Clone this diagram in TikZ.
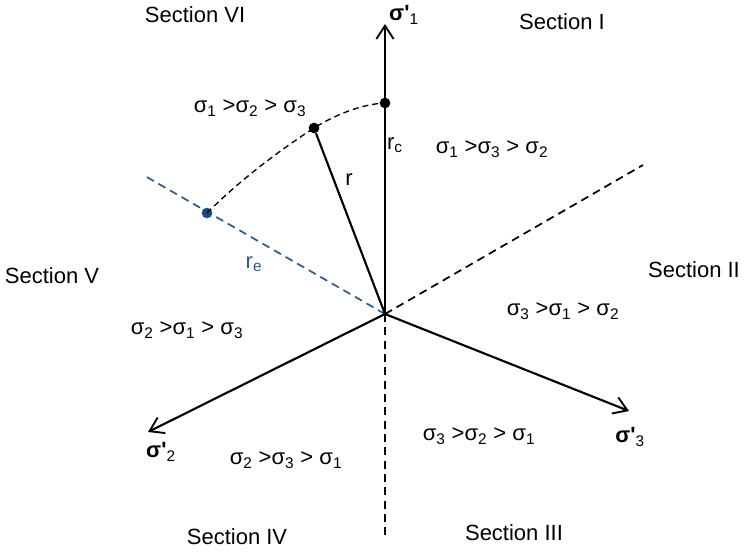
\documentclass[tikz,border=0pt]{standalone}
\usepackage{fontspec}
\setmainfont{Liberation Sans}
\usetikzlibrary{arrows.meta}
\definecolor{rblue}{RGB}{46,90,140}
\definecolor{dotblue}{RGB}{30,72,128}
\newcommand{\sg}[1]{σ\textsubscript{#1}}
\newcommand{\axl}[1]{\textbf{σ\textquotesingle}\textsubscript{#1}}
\begin{document}
\begin{tikzpicture}[x=0.75pt,y=-0.75pt,
  lbl/.style={font=\fontsize{16.5}{18}\selectfont, inner sep=0pt},
  axisline/.style={line width=1.6pt, -{Straight Barb[length=10pt,width=13pt,line width=1.4pt]}},
  solidline/.style={line width=1.6pt},
  dashline/.style={line width=1.3pt, dash pattern=on 6pt off 4pt},
  bluedash/.style={line width=1.3pt, dash pattern=on 6pt off 4pt, draw=rblue},
  curvedash/.style={line width=1pt, dash pattern=on 4.5pt off 3pt},
  bdot/.style={circle, fill=black, inner sep=0pt, minimum size=8pt},
  udot/.style={circle, fill=dotblue, inner sep=0pt, minimum size=8pt}]
\useasboundingbox (0,0) rectangle (746,554);

\coordinate (O) at (385,314);
\coordinate (a1) at (385,24);
\coordinate (a2) at (148,432);
\coordinate (a3) at (629,411);
\coordinate (d1) at (643,165);
\coordinate (d2) at (385,536);
\coordinate (d3) at (145,176);

% dashed section borders
\draw[dashline] (O) -- (d1);
\draw[dashline] (O) -- (d2);
\draw[bluedash] (O) -- (d3);

% axes
\draw[axisline] (O) -- (a1);
\draw[axisline] (O) -- (a2);
\draw[axisline] (O) -- (a3);

% points
\node[bdot] (pc) at (385,103) {};
\node[bdot] (pr) at (314,128) {};
\node[udot] (pe) at (207,213) {};

\draw[solidline] (O) -- (pr);
\draw[curvedash] (pe.center) .. controls (240,180) and (280,150) .. (pr.center)
  .. controls (340,112) and (365,104) .. (pc.center);

% axis labels
\node[lbl] (l1) at (404,15) {\axl{1}};
\node[lbl] (l2) at (161,452) {\axl{2}};
\node[lbl] (l3) at (630,437) {\axl{3}};

% radius labels
\node[lbl] (rc) at (395,145) {r\textsubscript{c}};
\node[lbl] (rr) at (349,180) {r};
\node[lbl, text=rblue] (re) at (254,264) {r\textsubscript{e}};

% section labels
\node[lbl] (s1) at (562,22) {Section I};
\node[lbl] (s2) at (694,270) {Section II};
\node[lbl] (s3) at (514,533) {Section III};
\node[lbl] (s4) at (237,537) {Section IV};
\node[lbl] (s5) at (52,276) {Section V};
\node[lbl] (s6) at (195,15) {Section VI};

% order labels
\node[lbl] (o6) at (250,108) {\sg{1} >\sg{2} > \sg{3}};
\node[lbl] (o1) at (492,149) {\sg{1} >\sg{3} > \sg{2}};
\node[lbl] (o2) at (563,311) {\sg{3} >\sg{1} > \sg{2}};
\node[lbl] (o3) at (479,436) {\sg{3} >\sg{2} > \sg{1}};
\node[lbl] (o4) at (286,460) {\sg{2} >\sg{3} > \sg{1}};
\node[lbl] (o5) at (187,330) {\sg{2} >\sg{1} > \sg{3}};
\end{tikzpicture}
\end{document}
